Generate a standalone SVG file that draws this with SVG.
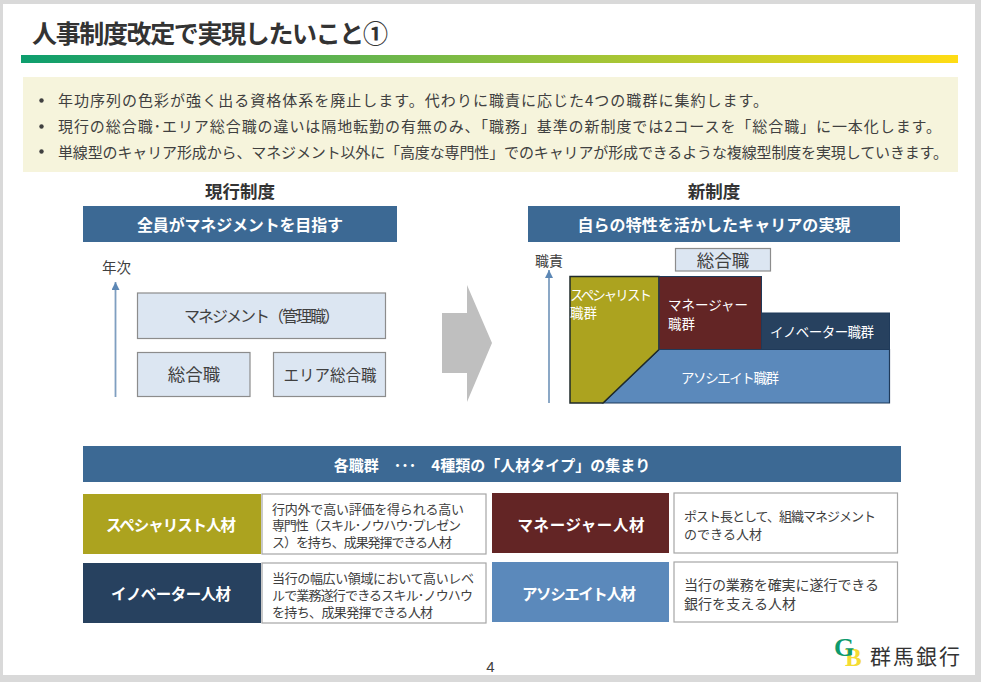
<svg xmlns="http://www.w3.org/2000/svg" width="981" height="682" viewBox="0 0 981 682">
<style>
text{font-family:"Noto Sans CJK JP","Liberation Sans",sans-serif;fill:#404040}
.b{font-weight:700}
.w{fill:#fff}
.m{text-anchor:middle}
.hd{fill:#3c6994}
.lt{fill:#dce6f2;stroke:#8c8c8c;stroke-width:1.2}
.wb{fill:#fff;stroke:#a6a6a6;stroke-width:1.2}
.ax{stroke:#7f9fc0;stroke-width:1.8;fill:none}
</style>
<defs>
<linearGradient id="g" x1="0" x2="1" y1="0" y2="0"><stop offset="0" stop-color="#0d9e6e"/><stop offset="1" stop-color="#ffdc14"/></linearGradient>
<marker id="ah" markerUnits="userSpaceOnUse" markerWidth="9" markerHeight="8" refX="8" refY="4" orient="auto"><path d="M0 0L8 4L0 8Z" fill="#5c87b5"/></marker>
</defs>
<rect width="981" height="682" fill="#d9d9d9"/>
<rect x="3" y="4" width="972" height="671" fill="#fff"/>
<g id="title">
<text class="b" x="32" y="43" font-size="25" textLength="356" style="fill:#333">人事制度改定で実現したいこと①</text>
<rect x="21" y="55" width="937" height="8" fill="url(#g)"/>
</g>
<g id="summary">
<rect x="23" y="77" width="935" height="95" fill="#f6f4dc"/>
<circle cx="41.500" cy="100.500" r="2.200" fill="#404040"/>
<circle cx="41.500" cy="126.500" r="2.200" fill="#404040"/>
<circle cx="41.500" cy="151.500" r="2.200" fill="#404040"/>
<text x="58" y="106" font-size="15" textLength="710">年功序列の色彩が強く出る資格体系を廃止します。代わりに職責に応じた4つの職群に集約します。</text>
<text x="58" y="132" font-size="15" textLength="883">現行の総合職･エリア総合職の違いは隔地転勤の有無のみ、「職務」基準の新制度では2コースを「総合職」に一本化します。</text>
<text x="58" y="158" font-size="15" textLength="890">単線型のキャリア形成から、マネジメント以外に「高度な専門性」でのキャリアが形成できるような複線型制度を実現していきます。</text>
</g>
<g id="current-header">
<text class="b m" x="240" y="198" font-size="17.500" style="fill:#333">現行制度</text>
<rect class="hd" x="83" y="206" width="314" height="36"/>
<text class="b w m" x="240" y="231" font-size="16" textLength="206">全員がマネジメントを目指す</text>
</g>
<g id="new-header">
<text class="b m" x="714" y="198" font-size="17.500" style="fill:#333">新制度</text>
<rect class="hd" x="528" y="206" width="372" height="36"/>
<text class="b w m" x="714" y="231" font-size="16" textLength="273">自らの特性を活かしたキャリアの実現</text>
</g>
<g id="connectors">
<path class="ax" d="M115.500 397V282" marker-end="url(#ah)"/>
<path class="ax" d="M549 403V270" marker-end="url(#ah)"/>
</g>
<g id="label-nenji"><text class="m" x="116.500" y="273" font-size="14.500">年次</text></g>
<g id="label-shokuseki"><text class="m" x="549" y="266" font-size="14">職責</text></g>
<g id="n-management"><rect class="lt" x="137.500" y="293" width="248" height="45.500"/><text class="m" x="262" y="322" font-size="16" textLength="156">マネジメント（管理職）</text></g>
<g id="n-sogo"><rect class="lt" x="137.500" y="352.500" width="112.500" height="44"/><text class="m" x="194" y="381" font-size="17.500">総合職</text></g>
<g id="n-area"><rect class="lt" x="273.500" y="352.500" width="112" height="44"/><text class="m" x="330" y="381" font-size="15.500">エリア総合職</text></g>
<g id="big-arrow"><path d="M442 313H467V285L492 343L467 402V373H442Z" fill="#bfbfbf"/></g>
<g id="n-sogo-new"><rect class="lt" x="675.500" y="248.500" width="95" height="22.500"/><text class="m" x="723" y="267" font-size="17.500">総合職</text></g>
<g id="n-associate"><path d="M603 403L659 349.500H889.500V403Z" fill="#5b89bb" stroke="#1f3a5a" stroke-width="1.200"/><text class="w m" x="730" y="383" font-size="13.500" textLength="98">アソシエイト職群</text></g>
<g id="n-specialist"><path d="M570 276.500H659V349.500L603 403H570Z" fill="#aca31f" stroke="#1f2a2a" stroke-width="1.500"/><text class="w" x="570" y="300" font-size="13.500" textLength="82">スペシャリスト</text><text class="w" x="570" y="318" font-size="13.500">職群</text></g>
<g id="n-manager"><rect x="659" y="276.500" width="102.500" height="73" fill="#632525" stroke="#1f3a5a" stroke-width="1"/><text class="w" x="668" y="310" font-size="13.500" textLength="80">マネージャー</text><text class="w" x="668" y="329" font-size="13.500">職群</text></g>
<g id="n-innovator"><rect x="761.500" y="313" width="128" height="36.500" fill="#27415f" stroke="#1f3a5a" stroke-width="1"/><text class="w" x="770" y="337" font-size="13.500" textLength="104">イノベーター職群</text></g>
<g id="band"><rect class="hd" x="83" y="446" width="818" height="36"/><text class="b w m" x="492" y="471" font-size="15" xml:space="preserve">各職群　･･･　4種類の「人材タイプ」の集まり</text></g>
<g id="card-specialist"><rect x="83" y="494" width="178" height="60" fill="#aca31f"/><text class="b w m" x="171" y="531" font-size="15.500" textLength="130">スペシャリスト人材</text><rect class="wb" x="262" y="494" width="224" height="60"/><g font-size="13"><text x="272" y="514" textLength="192">行内外で高い評価を得られる高い</text><text x="272" y="530" textLength="189">専門性（スキル･ノウハウ･プレゼン</text><text x="272" y="547" textLength="180">ス）を持ち、成果発揮できる人材</text></g></g>
<g id="card-innovator"><rect x="83" y="563" width="178" height="60" fill="#27415f"/><text class="b w m" x="171" y="600" font-size="15.500" textLength="120">イノベーター人材</text><rect class="wb" x="262" y="563" width="224" height="60"/><g font-size="13"><text x="272" y="583" textLength="202">当行の幅広い領域において高いレベ</text><text x="272" y="600" textLength="201">ルで業務遂行できるスキル･ノウハウ</text><text x="272" y="617" textLength="161">を持ち、成果発揮できる人材</text></g></g>
<g id="card-manager"><rect x="492" y="493" width="177" height="60" fill="#632525"/><text class="b w m" x="581" y="531" font-size="15.500" textLength="127">マネージャー人材</text><rect class="wb" x="674" y="493" width="223.500" height="60"/><g font-size="13"><text x="684" y="521" textLength="192">ポスト長として、組織マネジメント</text><text x="684" y="539" textLength="78">のできる人材</text></g></g>
<g id="card-associate"><rect x="492" y="562" width="177" height="60" fill="#5b89bb"/><text class="b w m" x="579" y="600" font-size="15.500" textLength="114">アソシエイト人材</text><rect class="wb" x="674" y="562" width="223.500" height="60"/><g font-size="14"><text x="684" y="590" textLength="195">当行の業務を確実に遂行できる</text><text x="684" y="609" textLength="112">銀行を支える人材</text></g></g>
<g id="page"><text class="m" x="490.500" y="672" font-size="15" style="font-family:'Liberation Sans',sans-serif">4</text></g>
<g id="logo">
<text x="845" y="666" font-size="25" font-weight="700" style="font-family:'Liberation Serif',serif;fill:#f5dc32">B</text>
<text x="834" y="656" font-size="26" font-weight="700" style="font-family:'Liberation Serif',serif;fill:#0f9a6c">G</text>
<text x="870" y="664" font-size="21" textLength="90" style="fill:#333">群馬銀行</text>
</g>
</svg>
